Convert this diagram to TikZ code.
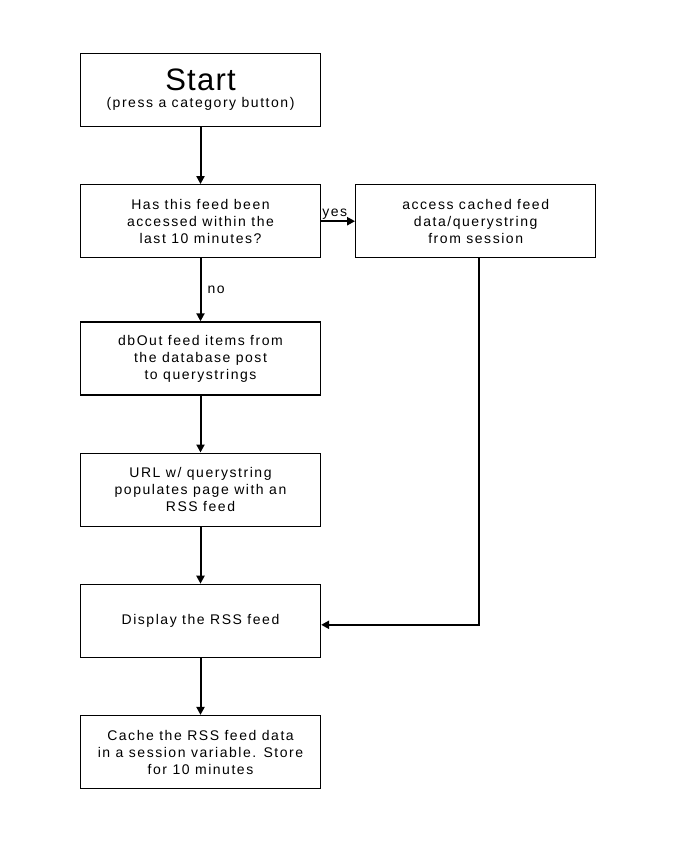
\documentclass[tikz,border=0pt]{standalone}
\usepackage{fontspec}
\setmainfont{Liberation Sans}[LetterSpace=11]
\usepackage{tikz}
\usetikzlibrary{positioning,arrows.meta}

\begin{document}
\begin{tikzpicture}[x=1pt,y=1pt,node distance=57pt,
	box/.style={draw,line width=1.2pt,minimum width=240pt,minimum height=73pt,align=center,
		font=\fontsize{14}{17}\selectfont,inner sep=2pt},
	flow/.style={line width=2pt,-{Triangle[length=8pt,width=8pt]}}]
	\useasboundingbox (0,0) rectangle (679,-849);
	\node(start) [box] at (200.5,-90) {{\fontsize{31}{31}\selectfont\addfontfeature{LetterSpace=4}Start}\\[0pt](press a category button)};
	\node(check) [box,below=of start] {Has this feed been\\accessed within the\\last 10 minutes?};
	\node(cached) [box,right=34pt of check] {access cached feed\\data/querystring\\from session};
	\node(dbout) [box,below=63pt of check] {dbOut feed items from\\the database post\\to querystrings};
	\node(url) [box,below=of dbout] {URL w/ querystring\\populates page with an\\RSS feed};
	\node(display) [box,below=of url] {Display the RSS feed};
	\node(cache) [box,below=of display] {Cache the RSS feed data\\in a session variable. Store\\for 10 minutes};
	
	\draw[flow](start) --(check);
	\draw[flow](check) --node[above,font=\fontsize{14}{15}\selectfont,inner sep=1pt,pos=0.4]{yes}(cached);
	\draw[flow](check) --node[right,font=\fontsize{14}{15}\selectfont,inner sep=6pt]{no}(dbout);
	\draw[flow](dbout) --(url);
	\draw[flow](url) --(display);
	\draw[flow]([xshift=3pt]cached.south) |-([yshift=-4pt]display.east);
	\draw[flow](display) --(cache);
	
\end{tikzpicture}
\end{document}
